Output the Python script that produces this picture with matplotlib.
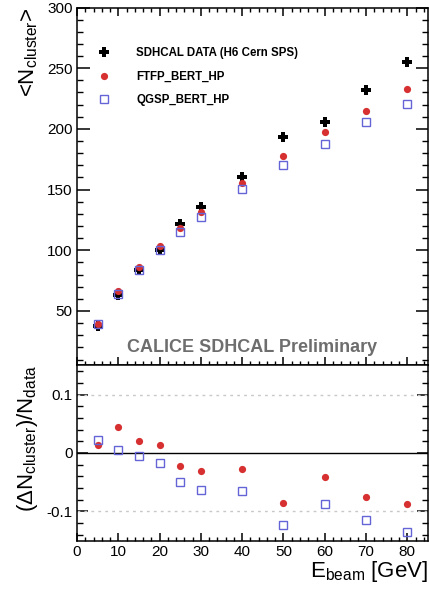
import matplotlib
matplotlib.use('Agg')
import matplotlib.pyplot as plt
from matplotlib.ticker import MultipleLocator, FixedLocator, FixedFormatter
from matplotlib.lines import Line2D

plt.rcParams['font.family'] = ['Liberation Sans', 'DejaVu Sans']
plt.rcParams['mathtext.fontset'] = 'custom'
plt.rcParams['mathtext.rm'] = 'Liberation Sans'
plt.rcParams['mathtext.it'] = 'Liberation Sans:italic'
plt.rcParams['axes.unicode_minus'] = False

# beam energies (GeV)
energy = [5, 10, 15, 20, 25, 30, 40, 50, 60, 70, 80]
# mean number of clusters
n_data = [37.6, 63.2, 83.8, 100.2, 121.4, 136.0, 160.1, 193.6, 205.4, 232.0, 254.9]
n_ftfp = [39.3, 66.5, 86.0, 103.5, 118.0, 131.8, 155.7, 177.4, 197.2, 214.7, 232.6]
n_qgsp = [39.5, 64.0, 84.0, 100.0, 114.8, 127.2, 150.2, 170.0, 187.8, 205.7, 220.8]
# relative deviation (sim - data)/data
rel_ftfp = [0.013, 0.045, 0.021, 0.014, -0.023, -0.031, -0.028, -0.086, -0.042, -0.076, -0.088]
rel_qgsp = [0.023, 0.006, -0.006, -0.017, -0.049, -0.064, -0.065, -0.124, -0.087, -0.115, -0.136]

legend_labels = ['SDHCAL DATA (H6 Cern SPS)', 'FTFP_BERT_HP', 'QGSP_BERT_HP']

RED = '#d63031'
BLUE = '#6464d6'

fig = plt.figure(figsize=(4.29, 5.90), dpi=100)
W, H = 429.0, 590.0
left, right = 77 / W, 428 / W
ax1 = fig.add_axes([left, 1 - 365 / H, right - left, (365 - 7.5) / H])
ax2 = fig.add_axes([left, 1 - 541 / H, right - left, (541 - 365) / H])

for ax in (ax1, ax2):
    for s in ax.spines.values():
        s.set_linewidth(1.1)
    ax.set_xlim(0, 85)
    ax.xaxis.set_major_locator(MultipleLocator(10))
    ax.xaxis.set_minor_locator(MultipleLocator(2))
    ax.tick_params(labelsize=11, pad=3)

# ---- top panel
ax1.plot(energy, n_data, linestyle='none', marker='P', markersize=6.8, color='black',
         markeredgewidth=0)
ax1.plot(energy, n_ftfp, linestyle='none', marker='o', markersize=5.2, color=RED,
         markeredgewidth=0)
ax1.plot(energy, n_qgsp, linestyle='none', marker='s', markersize=5.5, markerfacecolor='none',
         markeredgecolor=BLUE, markeredgewidth=1.0)
ax1.set_ylim(5.5, 300)
ax1.yaxis.set_major_locator(MultipleLocator(50))
ax1.yaxis.set_minor_locator(MultipleLocator(10))
ax1.tick_params(axis='y', which='major', direction='in', length=9, width=1.1, left=True, right=True)
ax1.tick_params(axis='y', which='minor', direction='in', length=4.5, width=1.0, left=True, right=True)
ax1.tick_params(axis='x', which='major', direction='in', length=6, width=1.1, top=True, bottom=True,
                labelbottom=False)
ax1.tick_params(axis='x', which='minor', direction='in', length=3, width=1.0, top=True, bottom=True)
ax1.set_ylabel(r'<N$_{\mathregular{cluster}}$>', fontsize=16, loc='top')
ax1.yaxis.set_label_coords(-0.105, 1.0)

handles = [
    Line2D([], [], linestyle='none', marker='P', markersize=6.8, color='black', markeredgewidth=0),
    Line2D([], [], linestyle='none', marker='o', markersize=5.2, color=RED, markeredgewidth=0),
    Line2D([], [], linestyle='none', marker='s', markersize=5.5, markerfacecolor='none',
           markeredgecolor=BLUE, markeredgewidth=1.0),
]
leg = ax1.legend(handles, legend_labels, loc='upper left', bbox_to_anchor=(0.061, 0.889),
                 frameon=False, borderpad=0, borderaxespad=0, handlelength=1.0,
                 handletextpad=2.3, labelspacing=1.0, prop={'weight': 'bold', 'size': 8.3})

ax1.text(0.856, 0.035, 'CALICE SDHCAL Preliminary', transform=ax1.transAxes,
         ha='right', va='baseline', fontsize=13, fontweight='bold', color='#6e6e6e')

# ---- ratio panel
ax2.axhline(0, color='black', linewidth=1.0)
for yv in (0.1, -0.1):
    ax2.axhline(yv, color='#c8c8c8', linewidth=1.0, linestyle=(0, (2, 3)))
ax2.plot(energy, rel_ftfp, linestyle='none', marker='o', markersize=5.2, color=RED,
         markeredgewidth=0)
ax2.plot(energy, rel_qgsp, linestyle='none', marker='s', markersize=5.5, markerfacecolor='none',
         markeredgecolor=BLUE, markeredgewidth=1.0)
ax2.set_ylim(-0.151, 0.151)
ax2.yaxis.set_major_locator(FixedLocator([-0.1, 0, 0.1]))
ax2.yaxis.set_major_formatter(FixedFormatter(['-0.1', '0', '0.1']))
ax2.yaxis.set_minor_locator(MultipleLocator(0.02))
ax2.tick_params(axis='y', which='major', direction='in', length=8, width=1.1, left=True, right=True)
ax2.tick_params(axis='y', which='minor', direction='in', length=4, width=1.0, left=True, right=True)
ax2.tick_params(axis='x', which='major', direction='in', length=6, width=1.1, bottom=True, top=False)
ax2.tick_params(axis='x', which='minor', direction='in', length=3, width=1.0, bottom=True, top=False)
ax2.set_ylabel(r'($\Delta$N$_{\mathregular{cluster}}$)/N$_{\mathregular{data}}$', fontsize=16, loc='top')
ax2.yaxis.set_label_coords(-0.105, 1.0)
ax2.set_xlabel(r'E$_{\mathregular{beam}}$ [GeV]', fontsize=16, loc='right', labelpad=0)

fig.savefig('out.png', dpi=100)
